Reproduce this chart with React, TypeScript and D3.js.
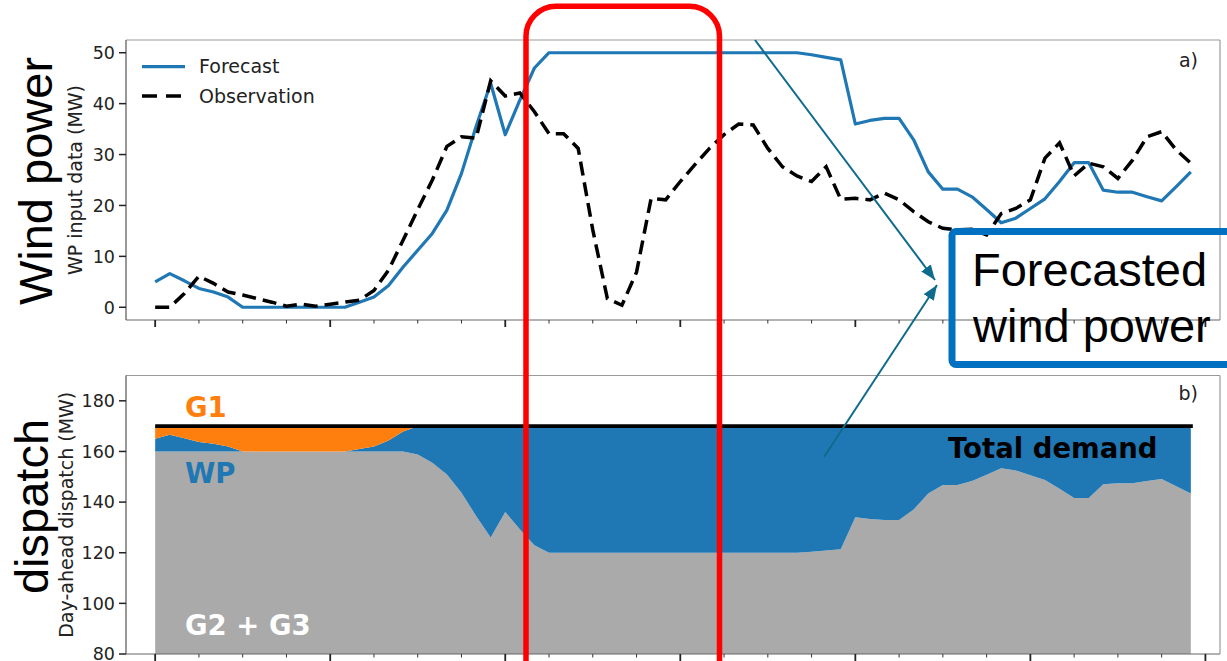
import React from 'react';
import * as d3 from 'd3';

// Hourly wind power input (MW) over three days
const hours = d3.range(72);
const forecast = [
  5.0, 6.6, 5.2, 3.7, 3.0, 2.0, 0, 0, 0, 0, 0, 0, 0, 0,
  1.0, 2.0, 4.3, 7.9, 11.2, 14.5, 19.1, 26.3, 35.5, 44.0, 33.9, 40.7, 47.0,
  50, 50, 50, 50, 50, 50, 50, 50, 50, 50, 50, 50, 50, 50, 50, 50, 50, 50,
  49.6, 49.1, 48.6, 36.0, 36.7, 37.1, 37.1, 32.9, 26.6, 23.2, 23.2, 21.7, 19.2, 16.6,
  17.5, 19.4, 21.3, 24.7, 28.4, 28.4, 23.0, 22.6, 22.6, 21.7, 20.9, 23.7, 26.6,
];
const observation = [
  0, 0, 2.7, 6.1, 4.7, 3.0, 2.4, 1.7, 1.0, 0.2,
  0.6, 0.2, 0.6, 1.0, 1.4, 3.3, 7.3, 13.2, 19.2, 25.0,
  31.6, 33.5, 33.2, 44.5, 41.5, 42.1, 38.4, 34.1, 34.1, 31.2,
  15.2, 1.7, 0.4, 6.9, 21.4, 21.1, 24.7, 28.0, 31.2, 33.9,
  36.0, 35.8, 31.2, 27.6, 25.8, 24.7, 27.6, 21.2, 21.4, 21.1,
  22.4, 21.1, 18.8, 16.8, 15.5, 15.2, 15.3, 14.2, 18.4, 19.4,
  21.1, 29.3, 32.3, 25.8, 28.3, 27.6, 25.3, 28.9, 33.5, 34.5,
  30.9, 28.3,
];

// Day-ahead dispatch: demand is flat, G2 + G3 run up to their capacity,
// wind takes the rest and G1 covers any shortfall.
const totalDemand = 170;
const g23Capacity = 160;

const windTicks = [0, 10, 20, 30, 40, 50];
const dispatchTicks = [80, 100, 120, 140, 160, 180];
const majorHourTicks = [0, 12, 24, 36, 48, 60, 72];
const minorHourTicks = d3.range(0, 73, 3).filter((h) => h % 12 !== 0);

const BLUE = '#1f77b4';
const ORANGE = '#ff7f0e';
const GREY = '#aaaaaa';
const TEAL = '#0f6b8c';

export default function App() {
  const left = 126;
  const right = 1220;
  const x = d3.scaleLinear().domain([-2, 73]).range([left, right]);

  const topY0 = 40;
  const topY1 = 320;
  const yTop = d3.scaleLinear().domain([-2.5, 52.5]).range([topY1, topY0]);

  const botY0 = 375.5;
  const botY1 = 654;
  const yBot = d3.scaleLinear().domain([80, 190]).range([botY1, botY0]);

  const lineTop = (vals: number[]) =>
    d3.line<number>().x((_, i) => x(hours[i])).y((d) => yTop(d))(vals) || '';

  const dispatch = hours.map((h, i) => {
    const conv = Math.min(g23Capacity, totalDemand - forecast[i]);
    const windTop = Math.min(totalDemand, conv + forecast[i]);
    return { h, conv, windTop };
  });
  type D = (typeof dispatch)[number];

  const greyArea = d3.area<D>().x((d) => x(d.h)).y0(yBot(80)).y1((d) => yBot(d.conv))(dispatch) || '';
  const windArea = d3.area<D>().x((d) => x(d.h)).y0((d) => yBot(d.conv)).y1((d) => yBot(d.windTop))(dispatch) || '';
  const g1Area = d3.area<D>().x((d) => x(d.h)).y0((d) => yBot(d.windTop)).y1(yBot(totalDemand))(dispatch) || '';

  const font = "'DejaVu Sans', sans-serif";
  const bigFont = "'Liberation Sans', Arial, sans-serif";

  const frame = (y0: number, y1: number) => (
    <g>
      <line x1={left} x2={right} y1={y0} y2={y0} stroke="#9a9a9a" strokeWidth={1.2} />
      <line x1={right} x2={right} y1={y0} y2={y1} stroke="#9a9a9a" strokeWidth={1.2} />
      <line x1={left} x2={left} y1={y0} y2={y1} stroke="#555" strokeWidth={1.2} />
      <line x1={left} x2={right} y1={y1} y2={y1} stroke="#666" strokeWidth={1.2} />
    </g>
  );

  const xTicks = (y1: number) => (
    <g>
      {majorHourTicks.map((h) => (
        <line key={'M' + h} x1={x(h)} x2={x(h)} y1={y1} y2={y1 + 7} stroke="#222" strokeWidth={1.8} />
      ))}
      {minorHourTicks.map((h) => (
        <line key={'m' + h} x1={x(h)} x2={x(h)} y1={y1} y2={y1 + 3.5} stroke="#333" strokeWidth={1} />
      ))}
    </g>
  );

  const yTicks = (ticks: number[], scale: d3.ScaleLinear<number, number>) => (
    <g>
      {ticks.map((t) => (
        <g key={t}>
          <line x1={left - 7} x2={left} y1={scale(t)} y2={scale(t)} stroke="#222" strokeWidth={1.5} />
          <text x={left - 11} y={scale(t)} dy="0.36em" textAnchor="end" fontSize={17.5} fill="#222" fontFamily={font}>
            {t}
          </text>
        </g>
      ))}
    </g>
  );

  return (
    <svg width={1227} height={661} style={{ position: 'absolute', left: 0, top: 0, display: 'block', background: '#fff' }}>
      <defs>
        <marker id="arrowHead" viewBox="0 0 15 12" refX={15} refY={6} markerWidth={15} markerHeight={12}
          markerUnits="userSpaceOnUse" orient="auto">
          <path d="M0,0 L15,6 L0,12 z" fill={TEAL} />
        </marker>
      </defs>

      {/* a) wind power input */}
      <path d={lineTop(forecast)} fill="none" stroke={BLUE} strokeWidth={3.2} strokeLinejoin="round" />
      <path d={lineTop(observation)} fill="none" stroke="#000" strokeWidth={3.5} strokeDasharray="14 7" />
      {frame(topY0, topY1)}
      {xTicks(topY1)}
      {yTicks(windTicks, yTop)}
      <text transform={`translate(82,${(topY0 + topY1) / 2}) rotate(-90)`} textAnchor="middle" fontSize={19} fill="#222" fontFamily={font}>
        WP input data (MW)
      </text>
      <text x={1198} y={66.5} textAnchor="end" fontSize={19} fill="#222" fontFamily={font}>a)</text>

      {/* legend */}
      <line x1={142} x2={185} y1={66.7} y2={66.7} stroke={BLUE} strokeWidth={3.2} />
      <text x={199} y={73.3} fontSize={19} fill="#222" fontFamily={font}>Forecast</text>
      <line x1={142} x2={185} y1={96} y2={96} stroke="#000" strokeWidth={3.5} strokeDasharray="15 9" />
      <text x={199} y={102.7} fontSize={19} fill="#222" fontFamily={font}>Observation</text>

      {/* b) day-ahead dispatch */}
      <path d={greyArea} fill={GREY} />
      <path d={windArea} fill={BLUE} />
      <path d={g1Area} fill={ORANGE} />
      <line x1={x(hours[0])} x2={x(hours[hours.length - 1]) + 2} y1={yBot(totalDemand)} y2={yBot(totalDemand)}
        stroke="#000" strokeWidth={3.8} />
      {frame(botY0, botY1)}
      {xTicks(botY1)}
      {yTicks(dispatchTicks, yBot)}
      <text transform={`translate(72.5,${(botY0 + botY1) / 2}) rotate(-90)`} textAnchor="middle" fontSize={19} fill="#222" fontFamily={font}>
        Day-ahead dispatch (MW)
      </text>
      <text x={1198} y={399.5} textAnchor="end" fontSize={19} fill="#222" fontFamily={font}>b)</text>

      <text x={185} y={417.3} fontSize={27.5} fontWeight="bold" fill={ORANGE} fontFamily={font}>G1</text>
      <text x={185} y={483} fontSize={27.5} fontWeight="bold" fill={BLUE} fontFamily={font}>WP</text>
      <text x={185} y={635} fontSize={27.5} fontWeight="bold" fill="#fff" fontFamily={font}>G2 + G3</text>
      <text x={948} y={457.7} fontSize={27.5} fontWeight="bold" fill="#000" fontFamily={font}>Total demand</text>

      {/* panel titles */}
      <text transform="translate(51.5,181) rotate(-90)" textAnchor="middle" fontSize={47} fill="#000" fontFamily={bigFont}>
        Wind power
      </text>
      <text transform="translate(48,506.5) rotate(-90)" textAnchor="middle" fontSize={47} fill="#000" fontFamily={bigFont}>
        dispatch
      </text>

      {/* highlighted period */}
      <rect x={526} y={6.3} width={193.5} height={720} rx={30} ry={30} fill="none" stroke="#ff0000" strokeWidth={5.5} />

      {/* callout */}
      <line x1={755} y1={40} x2={935} y2={280} stroke={TEAL} strokeWidth={2} markerEnd="url(#arrowHead)" />
      <line x1={824} y1={457} x2={937} y2={285} stroke={TEAL} strokeWidth={2} markerEnd="url(#arrowHead)" />
      <rect x={952} y={231.5} width={320} height={133} rx={4} ry={4} fill="none" stroke="#0070c0" strokeWidth={7} />
      <text x={972} y={286} fontSize={47} fill="#000" fontFamily={bigFont}>Forecasted</text>
      <text x={973} y={341.7} fontSize={47} fill="#000" fontFamily={bigFont}>wind power</text>
    </svg>
  );
}
